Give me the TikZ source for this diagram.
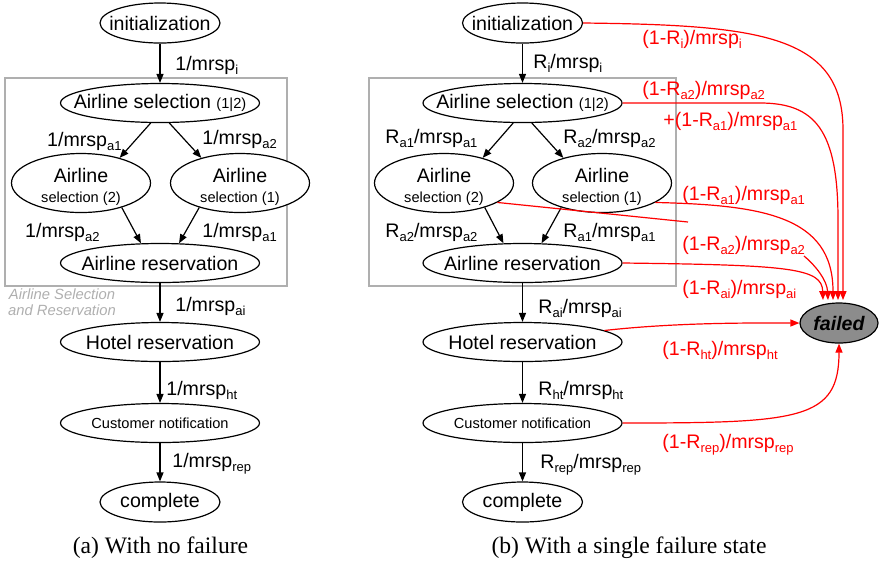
\documentclass[tikz,border=0pt]{standalone}
\usepackage{fontspec}
\setmainfont{Liberation Serif}
\setsansfont{Liberation Sans}
\usetikzlibrary{arrows.meta,shapes.geometric}

\definecolor{boxgray}{RGB}{175,175,175}
\definecolor{failgray}{RGB}{140,140,140}
\definecolor{failred}{RGB}{255,0,0}

\newcommand{\mainfs}{\fontsize{9.8}{10}\selectfont}
\newcommand{\smallfs}{\fontsize{7.3}{8}\selectfont}
\newcommand{\sbs}[1]{\raisebox{-2.4pt}{\fontsize{6.5}{7}\selectfont #1}}
\newcommand{\inbox}[1]{\makebox[0pt]{#1}}
\newcommand{\twoline}[1]{\inbox{\begin{tabular}[t]{@{}c@{}}Airline\\{\smallfs selection (#1)}\end{tabular}}}

\tikzset{
  stage/.style={draw, ellipse, fill=white, inner sep=0pt, line width=0.6pt, font=\sffamily\mainfs},
  endstage/.style={stage, minimum width=60pt, minimum height=20pt},
  widestage/.style={stage, minimum width=99.5pt, minimum height=19.5pt},
  pairstage/.style={stage, minimum width=69.5pt, minimum height=29.5pt, text height=7pt, text depth=8pt},
  failstage/.style={stage, fill=failgray, minimum width=39pt, minimum height=20pt, font=\sffamily\bfseries\itshape\mainfs},
  flow/.style={-{Triangle[length=4.5pt,width=3.5pt]}, line width=0.6pt},
  failflow/.style={flow, failred},
  rate/.style={anchor=base west, inner sep=0pt, font=\sffamily\mainfs},
  failrate/.style={rate, text=failred},
  groupbox/.style={draw=boxgray, line width=0.6pt},
  grouplabel/.style={anchor=north, align=center, inner sep=0pt, text=boxgray, font=\sffamily\itshape\fontsize{7.4}{8}\selectfont},
  capt/.style={anchor=base, inner sep=0pt, font=\fontsize{11.8}{13}\selectfont}
}

\begin{document}
\begin{tikzpicture}[x=0.5pt, y=-0.5pt]
    \useasboundingbox (0,0) rectangle (888,564);

    % (a) Without failure
    \draw[groupbox] (5,78) rectangle (287,286);
    \node[grouplabel] (aGroupLbl) at (62,288) {Airline Selection\\and Reservation};

    \node[endstage] (aInit) at (160,23) {\inbox{initialization}};
    \node[widestage] (aSel) at (160,103) {\inbox{Airline selection {\smallfs (1|2)}}};
    \node[pairstage] (aSel2) at (81,183) {\twoline{2}};
    \node[pairstage] (aSel1) at (240,183) {\twoline{1}};
    \node[widestage] (aRes) at (160,263) {\inbox{Airline reservation}};
    \node[widestage] (aHotel) at (160,342) {\inbox{Hotel reservation}};
    \node[widestage] (aNotify) at (160,423) {\inbox{\smallfs Customer notification}};
    \node[endstage] (aDone) at (160,502) {\inbox{complete}};

    \draw[flow] (aInit) -- (aSel);
    \draw[flow] (aSel.-115) -- (aSel2.33);
    \draw[flow] (aSel.-65) -- (aSel1.147);
    \draw[flow] (aSel2.-31) -- (aRes.134);
    \draw[flow] (aSel1.-149) -- (aRes.46);
    \draw[flow] (aRes) -- (aHotel);
    \draw[flow] (aHotel) -- (aNotify);
    \draw[flow] (aNotify) -- (aDone);

    \node[rate] (aRateI) at (175,70) {1/mrsp\sbs{i}};
    \node[rate, anchor=base east] (aRateA1) at (122,146) {1/mrsp\sbs{a1}};
    \node[rate] (aRateA2) at (202,144) {1/mrsp\sbs{a2}};
    \node[rate, anchor=base east] (aRateA2b) at (100,237) {1/mrsp\sbs{a2}};
    \node[rate] (aRateA1b) at (202,237) {1/mrsp\sbs{a1}};
    \node[rate] (aRateAi) at (175,311) {1/mrsp\sbs{ai}};
    \node[rate] (aRateHt) at (166,395) {1/mrsp\sbs{ht}};
    \node[rate] (aRateRep) at (172,467) {1/mrsp\sbs{rep}};

    \node[capt] (aCapt) at (160.5,553) {(a) With no failure};

    % (b) With one failure state
    \draw[groupbox] (369,78) rectangle (676,286);

    \node[endstage] (bInit) at (522.5,23) {\inbox{initialization}};
    \node[widestage] (bSel) at (522.5,103) {\inbox{Airline selection {\smallfs (1|2)}}};
    \node[pairstage] (bSel2) at (444,183) {\twoline{2}};
    \node[pairstage] (bSel1) at (602,183) {\twoline{1}};
    \node[widestage] (bRes) at (522.5,263) {\inbox{Airline reservation}};
    \node[widestage] (bHotel) at (522.5,342) {\inbox{Hotel reservation}};
    \node[widestage] (bNotify) at (522.5,423) {\inbox{\smallfs Customer notification}};
    \node[endstage] (bDone) at (522.5,502) {\inbox{complete}};
    \node[failstage] (failed) at (839,323) {\inbox{failed}};

    \draw[flow] (bInit) -- (bSel);
    \draw[flow] (bSel.-115) -- (bSel2.33);
    \draw[flow] (bSel.-65) -- (bSel1.147);
    \draw[flow] (bSel2.-31) -- (bRes.134);
    \draw[flow] (bSel1.-149) -- (bRes.46);
    \draw[flow] (bRes) -- (bHotel);
    \draw[flow] (bHotel) -- (bNotify);
    \draw[flow] (bNotify) -- (bDone);

    \node[rate] (bRateI) at (533,68) {R\sbs{i}/mrsp\sbs{i}};
    \node[rate] (bRateA1) at (385,143) {R\sbs{a1}/mrsp\sbs{a1}};
    \node[rate] (bRateA2) at (563,143) {R\sbs{a2}/mrsp\sbs{a2}};
    \node[rate] (bRateA2b) at (385,237) {R\sbs{a2}/mrsp\sbs{a2}};
    \node[rate] (bRateA1b) at (563,237) {R\sbs{a1}/mrsp\sbs{a1}};
    \node[rate] (bRateAi) at (538,313) {R\sbs{ai}/mrsp\sbs{ai}};
    \node[rate] (bRateHt) at (538,395) {R\sbs{ht}/mrsp\sbs{ht}};
    \node[rate] (bRateRep) at (540,468) {R\sbs{rep}/mrsp\sbs{rep}};

    % failure transitions
    \coordinate (fI) at (843,300);
    \coordinate (fSel) at (838,300);
    \coordinate (fA1) at (833,300);
    \coordinate (fA2) at (828,300);
    \coordinate (fRes) at (823,300);
    \coordinate (a2gap) at (688,222);
    \coordinate (a2back) at (804,256);

    \draw[failflow] (bInit.east) .. controls (760,25) and (843,35) .. (843,130) -- (fI);
    \draw[failflow] (bSel.east) -- (760,103) .. controls (815,103) and (838,130) .. (838,220) -- (fSel);
    \draw[failflow] (bSel1.-20) .. controls (760,205) and (833,215) .. (fA1);
    \draw[failred, line width=0.6pt] (bSel2.-20) -- (a2gap);
    \draw[failflow] (a2back) .. controls (815,265) and (827,280) .. (fA2);
    \draw[failflow] (bRes.east) .. controls (790,265) and (822,268) .. (fRes);
    \draw[failflow] (bHotel.8) .. controls (680,322) and (760,323) .. (failed.west);
    \draw[failflow] (bNotify.east) .. controls (800,423) and (839,420) .. (failed.south);

    \node[failrate] (bFailI) at (642,44) {(1-R\sbs{i})/mrsp\sbs{i}};
    \node[failrate] (bFailSel) at (642,95) {(1-R\sbs{a2})/mrsp\sbs{a2}};
    \node[failrate] (bFailSelB) at (663,126) {+(1-R\sbs{a1})/mrsp\sbs{a1}};
    \node[failrate] (bFailA1) at (682,200) {(1-R\sbs{a1})/mrsp\sbs{a1}};
    \node[failrate] (bFailA2) at (682,250) {(1-R\sbs{a2})/mrsp\sbs{a2}};
    \node[failrate] (bFailAi) at (682,294) {(1-R\sbs{ai})/mrsp\sbs{ai}};
    \node[failrate] (bFailHt) at (662,355) {(1-R\sbs{ht})/mrsp\sbs{ht}};
    \node[failrate] (bFailRep) at (662,448) {(1-R\sbs{rep})/mrsp\sbs{rep}};

    \node[capt] (bCapt) at (629,553) {(b) With a single failure state};
\end{tikzpicture}
\end{document}
